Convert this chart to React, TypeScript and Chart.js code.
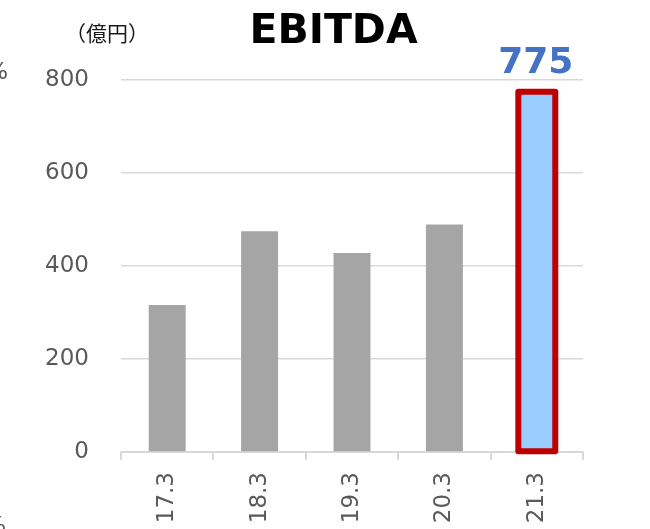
import React, { useEffect, useRef } from "react";
import { Chart, registerables } from "chart.js";

Chart.register(...registerables);

const categories: string[] = ["17.3", "18.3", "19.3", "20.3", "21.3"];
const ebitdaValues: number[] = [316, 475, 428, 489, 775];
const yTickValues: number[] = [0, 200, 400, 600, 800];
const chartTitle = "EBITDA";
const unitLabel = "（億円）";
const highlightIndex = 4;

const FONT = "'DejaVu Sans', Verdana, sans-serif";
const GRAY_TEXT = "#595959";
const GRID = "#d9d9d9";

export default function App() {
  const ref = useRef<HTMLCanvasElement | null>(null);

  useEffect(() => {
    if (!ref.current) return;

    const decorations = {
      id: "decorations",
      afterDatasetsDraw(chart: any) {
        const ctx = chart.ctx;
        const meta = chart.getDatasetMeta(0);
        const el: any = meta.data[highlightIndex];
        if (!el) return;
        const w = el.width;
        ctx.save();
        ctx.strokeStyle = "#c00000";
        ctx.lineWidth = 6;
        ctx.lineJoin = "round";
        ctx.strokeRect(el.x - w / 2, el.y, w, el.base - el.y);
        ctx.fillStyle = "#4472c4";
        ctx.font = `bold 36px ${FONT}`;
        ctx.textAlign = "center";
        ctx.textBaseline = "alphabetic";
        ctx.fillText(String(ebitdaValues[highlightIndex]), el.x - 1, el.y - 19);
        ctx.restore();
      },
      afterDraw(chart: any) {
        const ctx = chart.ctx;
        ctx.save();
        ctx.fillStyle = "#000000";
        ctx.font = `bold 41px ${FONT}`;
        ctx.textAlign = "center";
        ctx.textBaseline = "alphabetic";
        ctx.fillText(chartTitle, 333.5, 43);
        ctx.fillStyle = "#1a1a1a";
        ctx.font = `21px 'Noto Sans CJK JP', sans-serif`;
        ctx.fillText(unitLabel, 107, 41);
        ctx.fillStyle = GRAY_TEXT;
        ctx.font = `23px ${FONT}`;
        ctx.textAlign = "right";
        ctx.fillText("%", 8, 79);
        ctx.fillText("%", 6, 533);
        ctx.restore();
      },
    };

    const chart = new Chart(ref.current, {
      type: "bar",
      data: {
        labels: categories,
        datasets: [
          {
            data: ebitdaValues,
            backgroundColor: ebitdaValues.map((_, i) =>
              i === highlightIndex ? "#99ccff" : "#a5a5a5"
            ),
            borderWidth: 0,
            barPercentage: 0.4,
            categoryPercentage: 1,
          },
        ],
      },
      options: {
        responsive: false,
        animation: false,
        devicePixelRatio: 1,
        layout: { padding: { left: 0, right: 67, top: 80, bottom: 0 } },
        plugins: {
          legend: { display: false },
          title: { display: false },
          tooltip: { enabled: false },
        },
        scales: {
          x: {
            z: 1,
            grid: {
              offset: true,
              drawOnChartArea: false,
              drawTicks: true,
              tickLength: 8,
              color: GRID,
              lineWidth: 2,
            },
            border: { display: true, color: GRID, width: 2 },
            ticks: {
              minRotation: 90,
              maxRotation: 90,
              autoSkip: false,
              padding: 12,
              color: GRAY_TEXT,
              font: { family: FONT, size: 23 },
            },
            afterFit: (s: any) => {
              s.height = 77;
            },
          },
          y: {
            min: 0,
            max: 800,
            afterBuildTicks: (s: any) => {
              s.ticks = yTickValues.map((v) => ({ value: v }));
            },
            grid: {
              drawTicks: false,
              color: GRID,
              lineWidth: 1.5,
            },
            border: { display: false },
            ticks: {
              padding: 32,
              color: GRAY_TEXT,
              font: { family: FONT, size: 23 },
            },
            afterFit: (s: any) => {
              s.width = 121;
            },
          },
        },
      },
      plugins: [decorations],
    });

    return () => chart.destroy();
  }, []);

  return (
    <div style={{ position: "fixed", left: 0, top: 0, width: 650, height: 529, background: "#fff" }}>
      <canvas ref={ref} width={650} height={529} style={{ display: "block" }} />
    </div>
  );
}
